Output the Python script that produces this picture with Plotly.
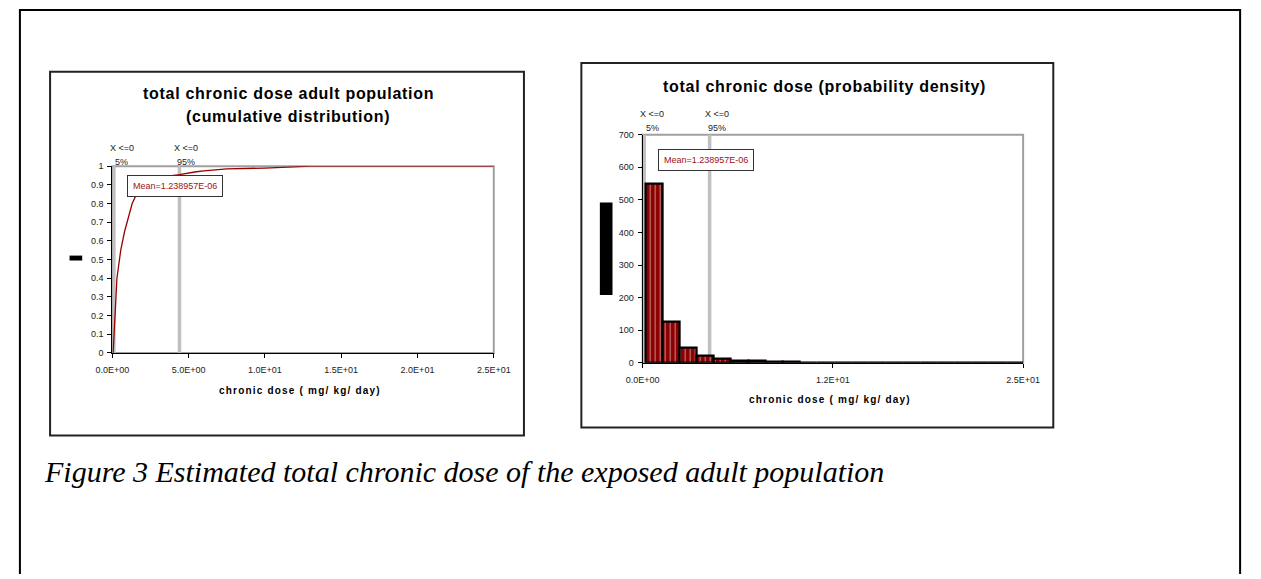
import plotly.graph_objects as go

W, H = 1261, 579

# ---------------- data ----------------
# cumulative distribution (left chart)
cum_x = [0.05, 0.3, 0.55, 0.8, 1.3, 1.7, 2.2, 3.0, 4.4, 4.7, 5.5, 6.0, 7.5, 10.0, 13.0, 25.0]
cum_y = [0.0, 0.40, 0.55, 0.65, 0.80, 0.87, 0.91, 0.94, 0.955, 0.96, 0.97, 0.975, 0.985, 0.99, 1.0, 1.0]

# probability density histogram (right chart)
bin_centers = [0.73, 1.86, 2.99, 4.12, 5.25, 6.38, 7.51, 8.64, 9.77, 10.90, 12.03,
               13.16, 14.29, 15.42, 16.55, 17.68, 18.81, 19.94, 21.07, 22.20, 23.33, 24.46]
bin_width = 1.13
bin_counts = [550, 127, 45, 22, 12, 6, 5, 2, 2, 1.5, 1.5, 1, 1, 1, 1, 1, 1, 1, 1, 1, 1, 1]

p5_value = 0.1
p95_value = 4.4
mean_text = "Mean=1.238957E-06"

left_xticks = [0, 5, 10, 15, 20, 25]
left_xticktext = ["0.0E+00", "5.0E+00", "1.0E+01", "1.5E+01", "2.0E+01", "2.5E+01"]
right_xticks = [0, 12.5, 25]
right_xticktext = ["0.0E+00", "1.2E+01", "2.5E+01"]

left_title = ["total chronic dose adult population", "(cumulative distribution)"]
right_title = "total chronic dose (probability density)"
x_title = "chronic dose ( mg/ kg/ day)"
caption = "Figure 3 Estimated total chronic dose of the exposed adult population"

# ---------------- helpers ----------------
def px(x):
    return x / W

def py(y):
    return 1 - y / H

DARKRED = "#8B0000"
SANS = "Liberation Sans, Arial, sans-serif"
SERIF = "Liberation Serif, Times New Roman, serif"

fig = go.Figure()

fig.add_trace(go.Scatter(
    x=cum_x, y=cum_y, mode="lines",
    line=dict(color="#990000", width=1.3),
    xaxis="x", yaxis="y", showlegend=False, hoverinfo="skip"))

fig.add_trace(go.Bar(
    x=bin_centers, y=bin_counts, width=bin_width,
    marker=dict(color=DARKRED,
                line=dict(color="black", width=2.2),
                pattern=dict(shape="|", fgcolor="white", bgcolor=DARKRED,
                             size=5, solidity=0.22)),
    xaxis="x2", yaxis="y2", showlegend=False, hoverinfo="skip"))

axis_common = dict(showline=True, linecolor="black", linewidth=1.3,
                   ticks="outside", ticklen=4, tickcolor="black", tickwidth=1,
                   showgrid=False, zeroline=False,
                   tickfont=dict(family=SANS, size=9, color="#222"))

fig.update_layout(
    width=W, height=H,
    margin=dict(l=0, r=0, t=0, b=0),
    paper_bgcolor="white", plot_bgcolor="white",
    showlegend=False,
    xaxis=dict(domain=[px(98), px(490)], range=[0, 25], anchor="y",
               tickmode="array", tickvals=left_xticks, ticktext=left_xticktext,
               ticklabelstandoff=4, **axis_common),
    yaxis=dict(domain=[py(354), py(164)], range=[0, 1], anchor="x",
               dtick=0.1, tick0=0, ticklabelstandoff=2, **axis_common),
    xaxis2=dict(domain=[px(643), px(1034)], range=[0, 25], anchor="y2",
                tickmode="array", tickvals=right_xticks, ticktext=right_xticktext,
                ticklabelstandoff=4, **axis_common),
    yaxis2=dict(domain=[py(364), py(132)], range=[0, 700], anchor="x2",
                dtick=100, tick0=0, ticklabelstandoff=2, **axis_common),
    bargap=0,
)

shapes = []
# outer frame (open at bottom)
shapes.append(dict(type="path", xref="paper", yref="paper",
                   path=f"M {px(3)},{py(579)} L {px(3)},{py(5)} L {px(1257)},{py(5)} L {px(1257)},{py(579)}",
                   line=dict(color="black", width=2)))
# chart frames
shapes.append(dict(type="rect", xref="paper", yref="paper",
                   x0=px(34), x1=px(521), y0=py(438), y1=py(68),
                   line=dict(color="#222", width=2)))
shapes.append(dict(type="rect", xref="paper", yref="paper",
                   x0=px(580), x1=px(1065), y0=py(430), y1=py(59),
                   line=dict(color="#222", width=2)))
# plot-area gray borders
for xr, yr in (("x", "y"), ("x2", "y2")):
    shapes.append(dict(type="rect", xref=f"{xr} domain", yref=f"{yr} domain",
                       x0=0, x1=1, y0=0, y1=1, layer="below",
                       line=dict(color="#A0A0A0", width=2)))
    for v in (p5_value, p95_value):
        shapes.append(dict(type="line", xref=xr, yref=f"{yr} domain",
                           x0=v, x1=v, y0=0, y1=1, layer="below",
                           line=dict(color="#C0C0C0", width=3.5)))
# black blocks (axis title placeholders)
shapes.append(dict(type="rect", xref="paper", yref="paper",
                   x0=px(54), x1=px(67), y0=py(260), y1=py(255),
                   fillcolor="black", line=dict(width=0)))
shapes.append(dict(type="rect", xref="paper", yref="paper",
                   x0=px(599), x1=px(612), y0=py(295), y1=py(201),
                   fillcolor="black", line=dict(width=0)))
fig.update_layout(shapes=shapes)

ann = []
def text(x, y, s, size=9, bold=False, color="#222", family=SANS, xanchor="center", **kw):
    if bold:
        s = f"<b>{s}</b>"
    ann.append(dict(xref="paper", yref="paper", x=px(x), y=py(y), text=s,
                    showarrow=False, xanchor=xanchor, yanchor="middle",
                    font=dict(family=family, size=size, color=color), **kw))

# titles
text(279, 90, f'<span style="letter-spacing:0.7px">{left_title[0]}</span>', size=16, bold=True, color="black")
text(279, 113, f'<span style="letter-spacing:0.7px">{left_title[1]}</span>', size=16, bold=True, color="black")
text(830, 83, f'<span style="letter-spacing:0.7px">{right_title}</span>', size=16, bold=True, color="black")
# x axis titles
text(291, 392, f'<span style="letter-spacing:1.2px">{x_title}</span>', size=10, bold=True, color="black")
text(836, 401, f'<span style="letter-spacing:1.2px">{x_title}</span>', size=10, bold=True, color="black")

# percentile labels (tied to the percentile lines)
for xr, ytop in (("x", 146), ("x2", 111)):
    for v, lab, sh in ((p5_value, "5%", 8), (p95_value, "95%", 7)):
        ann.append(dict(xref=xr, yref="paper", x=v, y=py(ytop), xshift=sh,
                        text="X <=0", showarrow=False, yanchor="middle",
                        font=dict(family=SANS, size=9, color="#222")))
        ann.append(dict(xref=xr, yref="paper", x=v, y=py(ytop + 14), xshift=sh,
                        text=lab, showarrow=False, yanchor="middle",
                        font=dict(family=SANS, size=9, color="#222")))

# mean boxes
for cx, cy in ((162, 184.5), (708, 157.5)):
    text(cx, cy, mean_text, size=9, color="#A01010",
         bordercolor="#333", borderwidth=1, borderpad=5, bgcolor="white")

# caption
text(26, 475, f"<i>{caption}</i>", size=30, color="black", family=SERIF, xanchor="left")

fig.update_layout(annotations=ann)

fig.write_html("out.html",
               config={"displayModeBar": False},
               post_script="document.body.style.margin='0';document.body.style.overflow='hidden';")
